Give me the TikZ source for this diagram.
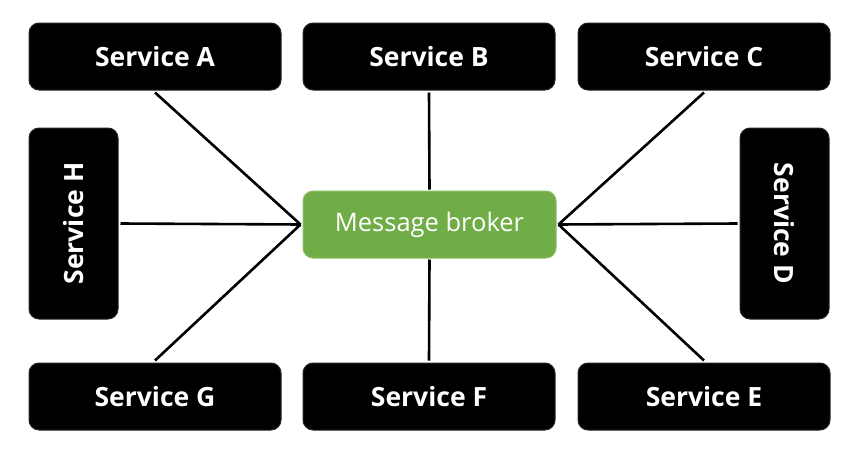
\documentclass[tikz,border=0pt]{standalone}
\usepackage{fontspec}
\setmainfont{Open Sans}
\definecolor{brokergreen}{HTML}{70AD47}
\definecolor{brokeredge}{HTML}{8CC063}
\begin{document}
\begin{tikzpicture}[x=1pt,y=-1pt,
  svcfont/.style={font=\fontsize{26.5}{30}\selectfont\bfseries},
  svc/.style={draw=black!85, line width=1pt, fill=black, rounded corners=10pt, text=white,
    svcfont, inner sep=0pt},
  hsvc/.style={svc, minimum width=252pt, minimum height=67pt},
  vsvc/.style={svc, minimum width=89pt, minimum height=191pt},
  brokerbox/.style={draw=brokeredge, line width=1pt, fill=brokergreen, rounded corners=10pt, text=white,
    font=\fontsize{25.5}{30}\selectfont, inner sep=0pt, minimum width=253pt, minimum height=67pt},
  link/.style={line width=2.6pt, black}]
\useasboundingbox (0,0) rectangle (860,450);
\node[hsvc] (A) at (155,56.5) {Service A};
\node[hsvc] (B) at (429,56.5) {Service B};
\node[hsvc] (C) at (704,56.5) {Service C};
\node[hsvc] (G) at (155,396.5) {Service G};
\node[hsvc] (F) at (429,396.5) {Service F};
\node[hsvc] (E) at (704,396.5) {Service E};
\node[vsvc] (H) at (73.5,223.5) {};
\node[rotate=90, text=white, svcfont] (Ht) at (H.center) {Service H};
\node[vsvc] (D) at (784.5,223.5) {};
\node[rotate=-90, text=white, svcfont] (Dt) at (D.center) {Service D};
\node[brokerbox] (M) at (429.5,224.5) {Message broker};
\draw[link] ([yshift=-2pt]A.south) -- ([xshift=-2pt]M.west);
\draw[link] ([xshift=2pt]H.east) -- ([xshift=-2pt]M.west);
\draw[link] ([yshift=2pt]G.north) -- ([xshift=-2pt]M.west);
\draw[link] ([yshift=-2pt]B.south) -- ([yshift=1pt]M.north);
\draw[link] ([yshift=2pt]F.north) -- ([yshift=-1pt]M.south);
\draw[link] ([yshift=-2pt]C.south) -- ([xshift=2pt]M.east);
\draw[link] ([xshift=-2pt]D.west) -- ([xshift=2pt]M.east);
\draw[link] ([yshift=2pt]E.north) -- ([xshift=2pt]M.east);
\end{tikzpicture}
\end{document}
